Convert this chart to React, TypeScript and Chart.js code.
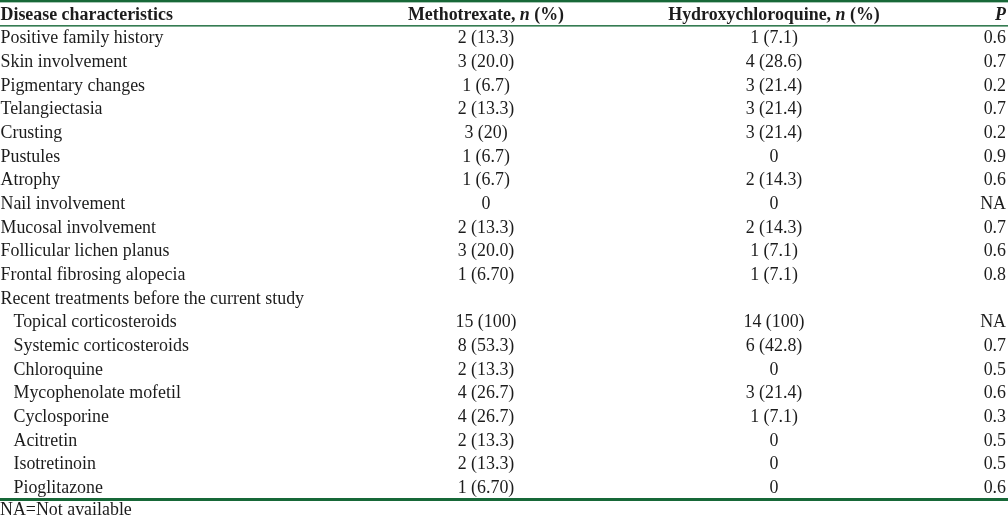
import React, { useEffect, useRef } from "react";
import { Chart, registerables } from "chart.js";

Chart.register(...registerables);

// ---- Data ----
const headers = ["Disease characteristics", "Methotrexate, n (%)", "Hydroxychloroquine, n (%)", "P"];

const characteristics = [
  "Positive family history",
  "Skin involvement",
  "Pigmentary changes",
  "Telangiectasia",
  "Crusting",
  "Pustules",
  "Atrophy",
  "Nail involvement",
  "Mucosal involvement",
  "Follicular lichen planus",
  "Frontal fibrosing alopecia",
];

const sectionHeading = "Recent treatments before the current study";

const treatments = [
  "Topical corticosteroids",
  "Systemic corticosteroids",
  "Chloroquine",
  "Mycophenolate mofetil",
  "Cyclosporine",
  "Acitretin",
  "Isotretinoin",
  "Pioglitazone",
];

const methotrexate = [
  "2 (13.3)", "3 (20.0)", "1 (6.7)", "2 (13.3)", "3 (20)", "1 (6.7)", "1 (6.7)", "0",
  "2 (13.3)", "3 (20.0)", "1 (6.70)",
  "",
  "15 (100)", "8 (53.3)", "2 (13.3)", "4 (26.7)", "4 (26.7)", "2 (13.3)", "2 (13.3)", "1 (6.70)",
];

const hydroxychloroquine = [
  "1 (7.1)", "4 (28.6)", "3 (21.4)", "3 (21.4)", "3 (21.4)", "0", "2 (14.3)", "0",
  "2 (14.3)", "1 (7.1)", "1 (7.1)",
  "",
  "14 (100)", "6 (42.8)", "0", "3 (21.4)", "1 (7.1)", "0", "0", "0",
];

const pValues = [
  "0.6", "0.7", "0.2", "0.7", "0.2", "0.9", "0.6", "NA",
  "0.7", "0.6", "0.8",
  "",
  "NA", "0.7", "0.5", "0.6", "0.3", "0.5", "0.5", "0.6",
];

const footnote = "NA=Not available";

// ---- Layout / style ----
const W = 1008;
const H = 518;
const FONT = "'Liberation Serif', 'Times New Roman', serif";
const SIZE = 17.9;
const GREEN = "#176838";
const TEXT = "#1c1c1c";
const COL_LABEL = 0.5;
const INDENT = 13;
const COL_MTX = 486;
const COL_HCQ = 774;
const COL_P = 1006;
const DY = 1;

const rowLabels = [headers[0], ...characteristics, sectionHeading, ...treatments];
const indentedStart = 1 + characteristics.length + 1;

function drawRich(ctx: CanvasRenderingContext2D, text: string, x: number, y: number, align: string, bold: boolean) {
  const parts = text === "P" ? ["", "P"] : text.split(/(\bn\b)/);
  const fonts = parts.map((p, i) => `${i % 2 === 1 ? "italic " : ""}${bold ? "bold " : ""}${SIZE}px ${FONT}`);
  let total = 0;
  const widths = parts.map((p, i) => {
    ctx.font = fonts[i];
    const w = ctx.measureText(p).width;
    total += w;
    return w;
  });
  let cx = x;
  if (align === "center") cx = x - total / 2;
  else if (align === "right") cx = x - total;
  ctx.textAlign = "left";
  parts.forEach((p, i) => {
    ctx.font = fonts[i];
    ctx.fillText(p, cx, y);
    cx += widths[i];
  });
}

const tablePlugin = {
  id: "tablePlugin",
  afterDraw(chart: any) {
    const ctx: CanvasRenderingContext2D = chart.ctx;
    const xs = chart.scales.x;
    const ys = chart.scales.y;
    const { top, bottom, left, right } = chart.chartArea;
    ctx.save();
    // rules
    ctx.fillStyle = GREEN;
    ctx.fillRect(left, top - 2.4, right - left, 2.6);
    const sep = (ys.getPixelForValue(0) + ys.getPixelForValue(1)) / 2;
    ctx.fillRect(left, sep - 0.7, right - left, 1.4);
    ctx.fillRect(left, bottom - 1.2, right - left, 3);

    ctx.fillStyle = TEXT;
    ctx.textBaseline = "middle";
    // header
    const hy = ys.getPixelForValue(0) + DY;
    drawRich(ctx, headers[0], xs.getPixelForValue(COL_LABEL), hy, "left", true);
    drawRich(ctx, headers[1], xs.getPixelForValue(COL_MTX), hy, "center", true);
    drawRich(ctx, headers[2], xs.getPixelForValue(COL_HCQ), hy, "center", true);
    drawRich(ctx, headers[3], xs.getPixelForValue(COL_P), hy, "right", true);

    // body
    ctx.font = `${SIZE}px ${FONT}`;
    for (let i = 1; i < rowLabels.length; i++) {
      const y = ys.getPixelForValue(i) + DY;
      const r = i - 1;
      ctx.textAlign = "left";
      const lx = xs.getPixelForValue(i >= indentedStart ? COL_LABEL + INDENT : COL_LABEL);
      ctx.fillText(rowLabels[i], lx, y);
      ctx.textAlign = "center";
      ctx.fillText(methotrexate[r], xs.getPixelForValue(COL_MTX), y);
      ctx.fillText(hydroxychloroquine[r], xs.getPixelForValue(COL_HCQ), y);
      ctx.textAlign = "right";
      ctx.fillText(pValues[r], xs.getPixelForValue(COL_P), y);
    }
    // footnote
    ctx.textAlign = "left";
    ctx.fillText(footnote, xs.getPixelForValue(0), bottom + 11.5);
    ctx.restore();
  },
};

export default function App() {
  const ref = useRef<HTMLCanvasElement | null>(null);
  useEffect(() => {
    if (!ref.current) return;
    const chart = new Chart(ref.current, {
      type: "bar",
      data: {
        labels: rowLabels,
        datasets: [{ data: [] as number[], label: "" }],
      },
      options: {
        animation: false,
        responsive: false,
        indexAxis: "y",
        layout: { padding: { top: 2.17, bottom: 18.8, left: 0, right: 0 } },
        plugins: { legend: { display: false }, tooltip: { enabled: false }, title: { display: false } },
        scales: {
          x: { type: "linear", min: 0, max: W, display: false },
          y: { type: "category", offset: true, display: false },
        },
      },
      plugins: [tablePlugin],
    } as any);
    return () => chart.destroy();
  }, []);
  return (
    <div style={{ position: "fixed", left: 0, top: 0, width: W, height: H, background: "#fff" }}>
      <canvas ref={ref} width={W} height={H} style={{ display: "block", width: W, height: H }} />
    </div>
  );
}
